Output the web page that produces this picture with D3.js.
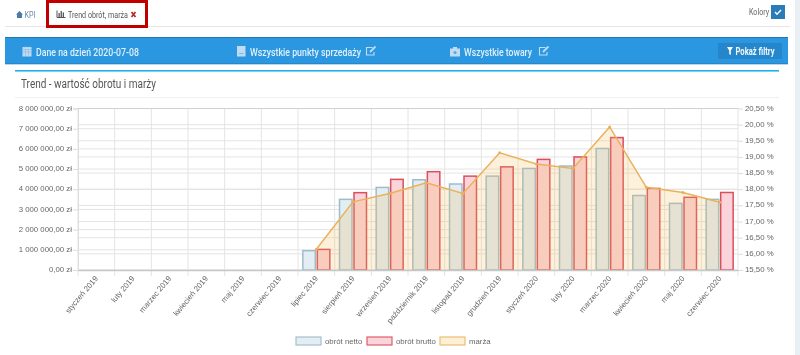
<!DOCTYPE html>
<html>
<head>
<meta charset="utf-8">
<script src="https://cdn.jsdelivr.net/npm/d3@7"></script>
<style>
html, body { margin: 0; padding: 0; background: #fff; overflow: hidden; }
svg { display: block; filter: blur(0.3px); }
.axis text { font-family: "Liberation Sans", sans-serif; font-size: 7.8px; fill: #666; }
.ui { font-family: Roboto, sans-serif; }
</style>
</head>
<body>
<div id="chart"></div>
<script>
var months = ["styczeń 2019", "luty 2019", "marzec 2019", "kwiecień 2019", "maj 2019", "czerwiec 2019",
    "lipiec 2019", "sierpień 2019", "wrzesień 2019", "październik 2019", "listopad 2019", "grudzień 2019",
    "styczeń 2020", "luty 2020", "marzec 2020", "kwiecień 2020", "maj 2020", "czerwiec 2020"];
var seriesNames = ["obrót netto", "obrót brutto", "marża"];
var netto = [null, null, null, null, null, null,
    957000, 3500000, 4090000, 4470000, 4260000, 4650000, 5030000, 5150000, 6020000, 3690000, 3300000, 3500000];
var brutto = [null, null, null, null, null, null,
    1020000, 3830000, 4490000, 4870000, 4650000, 5110000, 5480000, 5600000, 6560000, 4040000, 3600000, 3840000];
var marza = [null, null, null, null, null, null,
    16.14, 17.61, 17.87, 18.2, 17.87, 19.13, 18.78, 18.64, 19.93, 18.06, 17.9, 17.6];
var leftTicks = [0, 1000000, 2000000, 3000000, 4000000, 5000000, 6000000, 7000000, 8000000];
var rightTicks = [15.5, 16, 16.5, 17, 17.5, 18, 18.5, 19, 19.5, 20, 20.5];

function init() {
    var w = 800;
    var h = 355;
    var left = 78, right = 738, top = 108.5, bottom = 270;

    var svg = d3.select("#chart")
        .append("svg")
        .attr("width", w)
        .attr("height", h);

    var pl = d3.formatLocale({decimal: ",", thousands: " ", grouping: [3], currency: ["", " zł"]});

    var xScale = d3.scaleBand()
        .domain(months)
        .range([left, right]);

    var xInner = d3.scaleBand()
        .domain(["netto", "brutto"])
        .range([0, xScale.bandwidth()])
        .paddingInner(0.138)
        .paddingOuter(0.334);

    var yLeft = d3.scaleLinear()
        .domain([0, 8000000])
        .range([bottom, top]);

    var yRight = d3.scaleLinear()
        .domain([15.5, 20.5])
        .range([bottom, top]);

    drawPage(svg, w);

    // grid, both axes have their own horizontal lines
    var grid = svg.append("g");
    grid.selectAll(".gl").data(leftTicks).enter().append("line")
        .attr("x1", left).attr("x2", right)
        .attr("y1", function(d) { return yLeft(d); })
        .attr("y2", function(d) { return yLeft(d); })
        .attr("stroke", "#e4e4e4");
    grid.selectAll(".gr").data(rightTicks).enter().append("line")
        .attr("x1", left).attr("x2", right)
        .attr("y1", function(d) { return yRight(d); })
        .attr("y2", function(d) { return yRight(d); })
        .attr("stroke", "#e4e4e4");
    grid.selectAll(".gv").data(months).enter().append("line")
        .attr("x1", function(d) { return xScale(d); })
        .attr("x2", function(d) { return xScale(d); })
        .attr("y1", top).attr("y2", bottom + 6)
        .attr("stroke", "#e4e4e4");
    grid.append("line")
        .attr("x1", right).attr("x2", right)
        .attr("y1", top).attr("y2", bottom + 6)
        .attr("stroke", "#e4e4e4");
    grid.append("line")
        .attr("x1", left).attr("x2", right)
        .attr("y1", top).attr("y2", top)
        .attr("stroke", "#d0d0d0");

    // bars
    function drawBars(values, key, fill, stroke) {
        svg.append("g").selectAll("rect")
            .data(months.map(function(m, i) { return {m: m, v: values[i]}; })
                .filter(function(d) { return d.v !== null; }))
            .enter()
            .append("rect")
            .attr("x", function(d) { return xScale(d.m) + xInner(key); })
            .attr("y", function(d) { return yLeft(d.v); })
            .attr("width", xInner.bandwidth())
            .attr("height", function(d) { return bottom - yLeft(d.v); })
            .attr("fill", fill)
            .attr("stroke", stroke)
            .attr("stroke-width", 1.5);
    }
    drawBars(netto, "netto", "#e2edf4", "#9fbccb");
    drawBars(brutto, "brutto", "#fbd3da", "#d9505c");

    // margin area + line on top of bars
    var points = months.map(function(m, i) { return {m: m, v: marza[i]}; })
        .filter(function(d) { return d.v !== null; });
    var px = function(d) { return xScale(d.m) + xScale.bandwidth() / 2; };

    svg.append("path")
        .datum(points)
        .attr("fill", "rgba(245,185,80,0.2)")
        .attr("d", d3.area().x(px).y0(bottom).y1(function(d) { return yRight(d.v); }));
    svg.append("path")
        .datum(points)
        .attr("fill", "none")
        .attr("stroke", "#e9b25a")
        .attr("stroke-width", 1.5)
        .attr("d", d3.line().x(px).y(function(d) { return yRight(d.v); }));
    svg.append("g").selectAll("circle")
        .data(points)
        .enter()
        .append("circle")
        .attr("cx", px)
        .attr("cy", function(d) { return yRight(d.v); })
        .attr("r", 1.5)
        .attr("fill", "#e9b25a");

    // axes
    var axisLeft = d3.axisLeft(yLeft)
        .tickValues(leftTicks)
        .tickSize(5)
        .tickPadding(1)
        .tickFormat(function(d) { return pl.format(",.2f")(d) + " zł"; });
    var gl = svg.append("g")
        .attr("class", "axis")
        .attr("transform", "translate(" + left + ",0)")
        .call(axisLeft);
    gl.select(".domain").attr("stroke", "#ddd");
    gl.selectAll("line").attr("stroke", "#ddd");
    gl.selectAll("text").attr("dy", "0.2em");

    var axisRight = d3.axisRight(yRight)
        .tickValues(rightTicks)
        .tickSize(5)
        .tickPadding(2)
        .tickFormat(function(d) { return pl.format(".2f")(d) + " %"; });
    var gr = svg.append("g")
        .attr("class", "axis")
        .attr("transform", "translate(" + right + ",0)")
        .call(axisRight);
    gr.select(".domain").remove();
    gr.selectAll("line").attr("stroke", "#ddd");
    gr.selectAll("text").attr("dy", "0.2em");

    var axisBottom = d3.axisBottom(xScale).tickSize(0);
    var gx = svg.append("g")
        .attr("class", "axis")
        .attr("transform", "translate(0," + bottom + ")")
        .call(axisBottom);
    gx.select(".domain").attr("stroke", "#c8c8c8").attr("stroke-width", 1.5);
    gx.selectAll("text")
        .attr("text-anchor", "end")
        .attr("y", 0)
        .attr("dy", "0.35em")
        .attr("transform", "translate(0,7) rotate(-50)");

    // legend
    var legendFill = ["#e2edf4", "#fbd3da", "#fdf0d6"];
    var legendStroke = ["#a5c0ce", "#d9606a", "#e9c070"];
    var legendX = [296, 367, 440];
    var lg = svg.append("g").selectAll("g")
        .data(seriesNames)
        .enter()
        .append("g")
        .attr("transform", function(d, i) { return "translate(" + legendX[i] + ",337)"; });
    lg.append("rect")
        .attr("width", 25).attr("height", 8)
        .attr("fill", function(d, i) { return legendFill[i]; })
        .attr("stroke", function(d, i) { return legendStroke[i]; })
        .attr("stroke-width", 1.2);
    lg.append("text")
        .attr("x", 29).attr("y", 6.5)
        .attr("font-family", "Liberation Sans, sans-serif")
        .attr("font-size", 7.8)
        .attr("fill", "#666")
        .text(function(d) { return d; });
}

// tabs, blue toolbar and panel title around the chart
function drawPage(svg, w) {
    // faint page background on the right edge
    svg.append("rect").attr("x", 795).attr("y", 0).attr("width", 5).attr("height", 355).attr("fill", "#e9f0f3");

    function label(text, x, y, size, color, width, weight) {
        var t = svg.append("text")
            .attr("class", "ui")
            .attr("x", x).attr("y", y)
            .attr("font-size", size)
            .attr("fill", color)
            .attr("font-weight", weight || 400)
            .text(text);
        if (width) t.attr("textLength", width).attr("lengthAdjust", "spacingAndGlyphs");
        return t;
    }

    // tabs
    svg.append("line").attr("x1", 5).attr("x2", 790).attr("y1", 26.5).attr("y2", 26.5).attr("stroke", "#e6e6e6");
    svg.append("path").attr("d", "M16 14.5 L19.5 11 L23 14.5 L22 14.5 L22 18 L17 18 L17 14.5 Z").attr("fill", "#4a7ba6");
    label("KPI", 24.5, 17.5, 8.5, "#6a8aa5", 11);
    svg.append("path").attr("d", "M57 10.5 V17.5 H65.5").attr("fill", "none").attr("stroke", "#555");
    svg.append("path").attr("d", "M58.5 13h1.3v4h-1.3z M60.6 11h1.3v6h-1.3z M62.7 12.5h1.3v4.5h-1.3z").attr("fill", "#555");
    label("Trend obrót, marża", 68, 17.5, 9, "#555", 60);
    svg.append("path").attr("d", "M131.5 12 L135.5 17 M135.5 12 L131.5 17").attr("stroke", "#b03030").attr("stroke-width", 1.8);
    svg.append("rect").attr("x", 47.5).attr("y", 1.5).attr("width", 99).attr("height", 25)
        .attr("fill", "none").attr("stroke", "#c00000").attr("stroke-width", 3);

    label("Kolory", 749, 14.5, 8.5, "#666", 20);
    svg.append("rect").attr("x", 771).attr("y", 5).attr("width", 14).attr("height", 14).attr("fill", "#2a7cb8");
    svg.append("path").attr("d", "M775 12 L777 14.2 L781 10").attr("fill", "none").attr("stroke", "#fff").attr("stroke-width", 1.5);

    // toolbar
    svg.append("rect").attr("x", 5).attr("y", 37).attr("width", 783).attr("height", 27).attr("fill", "#2a97e0");
    svg.append("rect").attr("x", 5).attr("y", 37).attr("width", 783).attr("height", 1).attr("fill", "#2278b5");
    svg.append("rect").attr("x", 5).attr("y", 63.5).attr("width", 783).attr("height", 0.8).attr("fill", "#2278b5");

    var iconColor = "#bfdcf2";
    // calendar
    svg.append("path").attr("d", "M22.5 47 h9 v9.5 h-9 z").attr("fill", iconColor);
    svg.append("path").attr("d", "M22.5 49.5 h9 M25 46 v2 M29 46 v2 M22.5 52 h9 M25.5 49.5 v7 M28.5 49.5 v7")
        .attr("stroke", "#7dbbe6").attr("stroke-width", 0.6);
    label("Dane na dzień 2020-07-08", 36, 55.5, 11, "#e0f0fb", 103, 500);
    // building
    svg.append("path").attr("d", "M237 46 h8.5 v10.5 h-8.5 z").attr("fill", iconColor);
    svg.append("path").attr("d", "M239 53.5 h4.5").attr("stroke", "#7dbbe6").attr("stroke-width", 1);
    label("Wszystkie punkty sprzedaży", 250, 55.5, 11, "#e0f0fb", 111, 500);
    editIcon(366.5);
    // briefcase
    svg.append("path").attr("d", "M450 48.5 h3 v-1.5 h4 v1.5 h3 v8 h-10 z").attr("fill", iconColor);
    svg.append("circle").attr("cx", 455).attr("cy", 52.5).attr("r", 1.6).attr("fill", "#5aa9e0");
    label("Wszystkie towary", 464, 55.5, 11, "#e0f0fb", 68, 500);
    editIcon(539.5);

    function editIcon(x) {
        svg.append("path")
            .attr("d", "M" + (x + 6) + " 47.5 h-6 v7.5 h7.5 v-3")
            .attr("fill", "none").attr("stroke", iconColor).attr("stroke-width", 1.1);
        svg.append("path")
            .attr("d", "M" + (x + 3.5) + " 52 L" + (x + 9) + " 46.5")
            .attr("stroke", iconColor).attr("stroke-width", 1.8);
    }

    svg.append("rect").attr("x", 718).attr("y", 43).attr("width", 64).attr("height", 16).attr("fill", "#2686cc");
    svg.append("path").attr("d", "M727 47 h6 L730.8 50.5 V55 L729.2 54 V50.5 Z").attr("fill", "#fff");
    label("Pokaż filtry", 735.5, 55, 10.5, "#f0f7fc", 39, 700);

    // panel
    svg.append("rect").attr("x", 15).attr("y", 70).attr("width", 764).attr("height", 1.6).attr("fill", "#1db6ea");
    label("Trend - wartość obrotu i marży", 21, 88, 12, "#555", 135);
    svg.append("line").attr("x1", 15).attr("x2", 779).attr("y1", 97.5).attr("y2", 97.5).attr("stroke", "#f0f0f0");
}

window.onload = init;
</script>
</body>
</html>
